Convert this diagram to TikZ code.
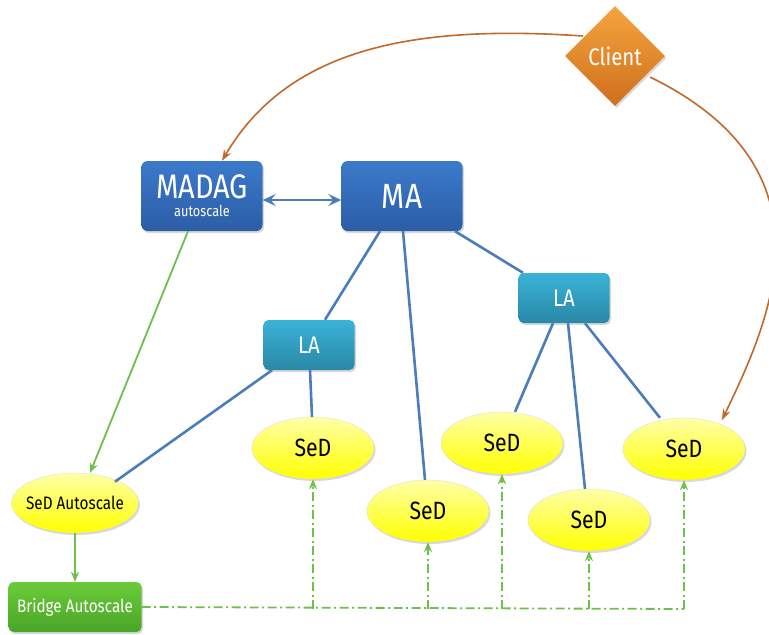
\documentclass[tikz,border=0pt]{standalone}
\usepackage{fontspec}
\setmainfont{Fira Sans}[FakeStretch=0.85]
\usetikzlibrary{shapes.geometric,shadows,arrows.meta}
\definecolor{bluetop}{HTML}{3B7ACB}
\definecolor{bluebot}{HTML}{2C5DA6}
\definecolor{latop}{HTML}{3AB2D8}
\definecolor{labot}{HTML}{2A88A6}
\definecolor{cltop}{HTML}{F5A43E}
\definecolor{clbot}{HTML}{CF6F1C}
\definecolor{gtop}{HTML}{6CCB3A}
\definecolor{gbot}{HTML}{4AA527}
\definecolor{ytop}{HTML}{FFFFA8}
\definecolor{ybot}{HTML}{FFFF00}
\definecolor{lineblue}{HTML}{4A7DBA}
\definecolor{linegreen}{HTML}{6DC04A}
\definecolor{lineorange}{HTML}{C0692A}
\tikzset{
  shad/.style={drop shadow={opacity=0.3,shadow xshift=1.5pt,shadow yshift=-2pt}},
  mbox/.style={rounded corners=6pt,top color=bluetop,bottom color=bluebot,draw=none,text=white,minimum width=121pt,minimum height=70pt,shad,align=center,inner sep=0pt},
  labox/.style={rounded corners=5pt,top color=latop,bottom color=labot,draw=none,text=white,minimum width=91pt,minimum height=50pt,shad,font=\fontsize{24}{26}\selectfont},
  sed/.style={ellipse,top color=ytop,bottom color=ybot,draw=black!15,line width=0.3pt,minimum width=122pt,minimum height=62pt,inner sep=0pt,shad,font=\fontsize{25}{27}\selectfont},
  bluel/.style={draw=lineblue,line width=2.6pt},
  greena/.style={draw=linegreen,line width=1.8pt,-{Stealth[length=10pt,width=8pt]}},
  greendd/.style={draw=linegreen,line width=1.8pt,dash pattern=on 9pt off 3.5pt on 2pt off 3.5pt},
  orangea/.style={draw=lineorange,line width=1.6pt,-{Stealth[length=11pt,width=8pt]}},
}
\begin{document}
\begin{tikzpicture}[x=1pt,y=-1pt]
\useasboundingbox (0,0) rectangle (769,635);
\clip (0,0) rectangle (769,635);
% nodes
\node[mbox,font=\fontsize{15}{18}\selectfont] (madag) at (202,196) {{\fontsize{34}{18}\selectfont MADAG}\\autoscale};
\node[mbox,font=\fontsize{35}{35}\selectfont] (ma) at (402,196) {MA};
\node[labox] (la1) at (309,345) {LA};
\node[labox] (la2) at (564,298) {LA};
\node[diamond,aspect=1,minimum width=100pt,minimum height=100pt,inner sep=0pt,top color=cltop,bottom color=clbot,text=white,shad,font=\fontsize{24}{26}\selectfont] (client) at (615,56) {Client};
\node[sed,minimum width=124pt,minimum height=60pt,inner xsep=-4pt,font=\fontsize{18}{20}\selectfont] (sedas) at (75,503) {SeD Autoscale};
\node[rounded corners=5pt,top color=gtop,bottom color=gbot,text=white,minimum width=133pt,minimum height=50pt,shad,font=\fontsize{18}{20}\selectfont] (bridge) at (75,607) {Bridge Autoscale};
\node[sed] (s1) at (313,448) {SeD};
\node[sed] (s2) at (428,511) {SeD};
\node[sed] (s3) at (502,443) {SeD};
\node[sed] (s4) at (589,520) {SeD};
\node[sed] (s5) at (684,449) {SeD};
% blue lines
\draw[bluel,{Stealth[length=13pt,width=12pt,inset=5pt]}-{Stealth[length=13pt,width=12pt,inset=5pt]}] (madag.east |- 0,200) -- (ma.west |- 0,200);
\draw[bluel] (ma.south -| 380,0) -- (la1.north -| 325,0);
\draw[bluel] (ma.south -| 403,0) -- (s2.north -| 425,0);
\draw[bluel] (ma.south -| 455,0) -- (la2.north west -| 523,0);
\draw[bluel] (la1.south -| 310,0) -- (s1.north -| 312,0);
\draw[bluel] (la1.south -| 272,0) -- (sedas.north east -| 115,0);
\draw[bluel] (la2.south -| 553,0) -- (s3.north -| 515,0);
\draw[bluel] (la2.south -| 568,0) -- (s4.north -| 585,0);
\draw[bluel] (la2.south -| 585,0) -- (s5.north -| 660,0);
% green solid
\draw[greena] (madag.south -| 188,0) -- (90,473);
\draw[greena] (sedas) -- (bridge);
% green dash-dot
\coordinate (c1) at (313,609);
\coordinate (c2) at (428,609);
\coordinate (c3) at (502,609);
\coordinate (c4) at (589,609);
\coordinate (c5) at (684,609);
\draw[greendd] (bridge.east) -- (c5);
\foreach \c/\s in {c1/s1,c2/s2,c3/s3,c4/s4,c5/s5}{
  \draw[greendd,-{Stealth[length=10pt,width=8pt]}] (\c) -- (\s.south);
}
% orange curves
\draw[orangea] (583,36) .. controls (420,25) and (290,45) .. (madag.north -| 222,0);
\draw[orangea] (650,77) .. controls (840,170) and (770,320) .. (722,420);
\end{tikzpicture}
\end{document}
